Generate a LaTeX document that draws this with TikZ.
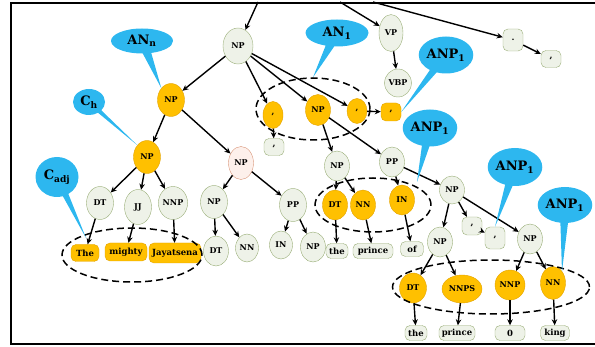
\documentclass[tikz,border=0pt]{standalone}
\usepackage{fontspec}
\setmainfont{DejaVu Serif}
\usetikzlibrary{shapes.geometric,shapes.callouts,arrows.meta}

\definecolor{tagfill}{HTML}{EEF2E8}
\definecolor{tagedge}{HTML}{9AAE78}
\definecolor{hotfill}{HTML}{FFC000}
\definecolor{hotedge}{HTML}{E3A300}
\definecolor{pinkfill}{HTML}{FDF0EB}
\definecolor{pinkedge}{HTML}{D9967A}
\definecolor{callblue}{HTML}{2DB7EF}

\begin{document}
\begin{tikzpicture}[
  x=1pt, y=-1pt,
  >={Stealth[length=6pt,width=5.5pt]},
  tag/.style={ellipse, draw=tagedge, fill=tagfill, inner sep=0pt, minimum width=25pt, minimum height=30pt, font=\fontsize{8}{9}\selectfont\bfseries},
  hot/.style={tag, draw=hotedge, fill=hotfill},
  word/.style={rectangle, rounded corners=5pt, draw=tagedge, fill=tagfill, inner sep=0pt, minimum height=15pt, font=\fontsize{8.5}{9}\selectfont\bfseries},
  hotword/.style={word, draw=hotedge, fill=hotfill},
  group/.style={ellipse, draw, dash pattern=on 7pt off 4pt, line width=1.5pt, inner sep=0pt},
  note/.style={ellipse callout, fill=callblue, inner sep=0pt, callout pointer arc=16, font=\fontsize{13}{14}\selectfont\bfseries},
  link/.style={->, line width=1.4pt}
]
\useasboundingbox (0,0) rectangle (595,347);
\draw[line width=2.5pt] (598,3) -- (11,3) -- (11,344) -- (598,344);

% parents above the frame
\coordinate (topa) at (258,2);
\coordinate (topb) at (340,2);
\coordinate (topc) at (373,2);

% left half
\node[tag, minimum width=30pt, minimum height=36pt] (root) at (238,46) {NP};
\node[hot, minimum width=27pt, minimum height=33pt] (npann) at (171,100) {NP};
\node[hot, minimum width=27pt, minimum height=33pt] (npch) at (147,157) {NP};
\node[tag, draw=pinkedge, fill=pinkfill, minimum height=33pt] (nppink) at (241,163) {NP};
\node[tag, minimum width=27pt, minimum height=33pt] (dtadj) at (100,203) {DT};
\node[tag, minimum width=27pt, minimum height=35pt] (jjadj) at (138,207) {JJ};
\node[tag, minimum width=28pt, minimum height=33pt] (nnpadj) at (173,203) {NNP};
\node[hotword, minimum width=28pt, minimum height=17pt] (wthe) at (85,253) {The};
\node[hotword, minimum width=42pt, minimum height=18pt] (wmighty) at (126,252) {mighty};
\node[hotword, minimum width=52pt, minimum height=20pt] (wjaya) at (175,253) {Jayatsena};
\node[tag, minimum width=27pt, minimum height=33pt] (npsub) at (214,202) {NP};
\node[tag, minimum width=27pt, minimum height=33pt] (ppsub) at (293,205) {PP};
\node[tag] (dtsub) at (216,251) {DT};
\node[tag, minimum width=23pt, minimum height=28pt] (nnsub) at (247,248) {NN};
\node[tag, minimum width=23pt, minimum height=28pt] (insub) at (281,245) {IN};
\node[tag] (npobj) at (313,247) {NP};

% commas under the root
\node[hot, minimum width=20pt, minimum height=27pt] (commaa) at (273,115) {,};
\node[word, minimum width=20pt, minimum height=17pt] (commaw) at (274,147) {,};
\node[hot, minimum width=20pt, minimum height=25pt] (commab) at (357,111) {,};
\node[hotword, minimum width=20pt, minimum height=18pt] (commac) at (391,112) {,};

% verb and punctuation
\node[tag, minimum width=24pt, minimum height=37pt] (vp) at (391,33) {VP};
\node[tag, minimum width=25pt, minimum height=28pt] (vbp) at (398,83) {VBP};
\node[word, minimum width=20pt, minimum height=22pt] (dot) at (513,40) {.};
\node[word, minimum width=20pt, minimum height=17pt] (dotw) at (551,59) {,};

% right half
\node[hot, minimum height=31pt] (npan) at (318,110) {NP};
\node[tag] (npmid) at (337,166) {NP};
\node[tag] (ppmid) at (392,162) {PP};
\node[hot] (dtmid) at (335,205) {DT};
\node[hot] (nnmid) at (363,205) {NN};
\node[hot] (inmid) at (402,200) {IN};
\node[word, minimum width=22pt] (wthea) at (337,251) {the};
\node[word, minimum width=40pt] (wprincea) at (373,251) {prince};
\node[word, minimum width=23pt] (wof) at (412,249) {of};
\node[tag, minimum height=28pt] (npright) at (452,190) {NP};
\node[word, minimum width=20pt, minimum height=18pt] (commad) at (472,226) {,};
\node[word, minimum width=20pt, minimum height=22pt] (commae) at (495,238) {,};
\node[tag] (npleft) at (440,242) {NP};
\node[tag] (npking) at (530,239) {NP};
\node[hot, minimum width=27pt] (dtlow) at (413,288) {DT};
\node[hot, minimum width=40pt, minimum height=28pt] (nnpslow) at (462,289) {NNPS};
\node[hot, minimum width=30pt] (nnplow) at (510,285) {NNP};
\node[hot, minimum height=33pt] (nnlow) at (553,283) {NN};
\node[word, minimum width=22pt] (wtheb) at (416,333) {the};
\node[word, minimum width=36pt] (wpriceb) at (457,333) {prince};
\node[word, minimum width=30pt] (wzero) at (510,333) {0};
\node[word, minimum width=29pt] (wking) at (555,333) {king};

% dashed groups
\node[group, minimum width=140pt, minimum height=54pt] (grpadj) at (132,255) {};
\node[group, minimum width=114pt, minimum height=62pt] (grpan) at (313,109) {};
\node[group, minimum width=116pt, minimum height=54pt] (grpin) at (373,205) {};
\node[group, minimum width=197pt, minimum height=54pt] (grpking) at (491,287) {};

% edges
\draw[link] (topa) -- (root);
\draw[link] (topb) -- (vp);
\draw[link] (topc) -- (dot);
\draw[link] (dot) -- (dotw);
\draw[link] (vp) -- (vbp);
\draw[link] (root) -- (npann);
\draw[link] (root) -- (commaa);
\draw[link] (root) -- (npan);
\draw[link] (root) -- (commab);
\draw[link] (commab) -- (commac);
\draw[link] (commaa) -- (commaw);
\draw[link] (npann) -- (npch);
\draw[link] (npann) -- (nppink);
\draw[link] (npch) -- (dtadj);
\draw[link] (npch) -- (jjadj);
\draw[link] (npch) -- (nnpadj);
\draw[link] (dtadj) -- (wthe);
\draw[link] (jjadj) -- (wmighty);
\draw[link] (nnpadj) -- (wjaya);
\draw[link] (nppink) -- (npsub);
\draw[link] (nppink) -- (ppsub);
\draw[link] (npsub) -- (dtsub);
\draw[link] (npsub) -- (nnsub);
\draw[link] (ppsub) -- (insub);
\draw[link] (ppsub) -- (npobj);
\draw[link] (npan) -- (npmid);
\draw[link] (npan) -- (ppmid);
\draw[link] (npmid) -- (dtmid);
\draw[link] (npmid) -- (nnmid);
\draw[link] (ppmid) -- (inmid);
\draw[link] (ppmid) -- (npright);
\draw[link] (dtmid) -- (wthea);
\draw[link] (nnmid) -- (wprincea);
\draw[link] (inmid) -- (wof);
\draw[link] (npright) -- (npleft);
\draw[link] (npright) -- (commad);
\draw[link] (commad) -- (commae);
\draw[link] (npright) -- (npking);
\draw[link] (npleft) -- (dtlow);
\draw[link] (npleft) -- (nnpslow);
\draw[link] (npking) -- (nnplow);
\draw[link] (npking) -- (nnlow);
\draw[link] (dtlow) -- (wtheb);
\draw[link] (nnpslow) -- (wpriceb);
\draw[link] (nnplow) -- (wzero);
\draw[link] (nnlow) -- (wking);

% callouts
\coordinate (tipadj) at (86,238);
\coordinate (tipin) at (417,182);
\node[note, minimum width=62pt, minimum height=25pt, callout absolute pointer={(npann.north west)}] (notann) at (142,41) {AN\textsubscript{n}};
\node[note, minimum width=32pt, minimum height=26pt, callout absolute pointer={(npch.north west)}] (notch) at (89,102) {C\textsubscript{h}};
\node[note, minimum width=43pt, minimum height=40pt, callout absolute pointer={(tipadj)}] (notadj) at (57,177) {C\textsubscript{adj}};
\node[note, minimum width=63pt, minimum height=27pt, callout absolute pointer={(grpan.north)}] (notan) at (337,33) {AN\textsubscript{1}};
\node[note, minimum width=53pt, minimum height=37pt, callout absolute pointer={(commac.east)}] (notcomma) at (446,55) {ANP\textsubscript{1}};
\node[note, minimum width=53pt, minimum height=37pt, callout absolute pointer={(tipin)}] (notin) at (430,128) {ANP\textsubscript{1}};
\node[note, minimum width=46pt, minimum height=38pt, callout absolute pointer={(commae.north)}] (notcommae) at (515,167) {ANP\textsubscript{1}};
\node[note, minimum width=50pt, minimum height=36pt, callout absolute pointer={(nnlow.north east)}] (notking) at (565,205) {ANP\textsubscript{1}};
\end{tikzpicture}
\end{document}
